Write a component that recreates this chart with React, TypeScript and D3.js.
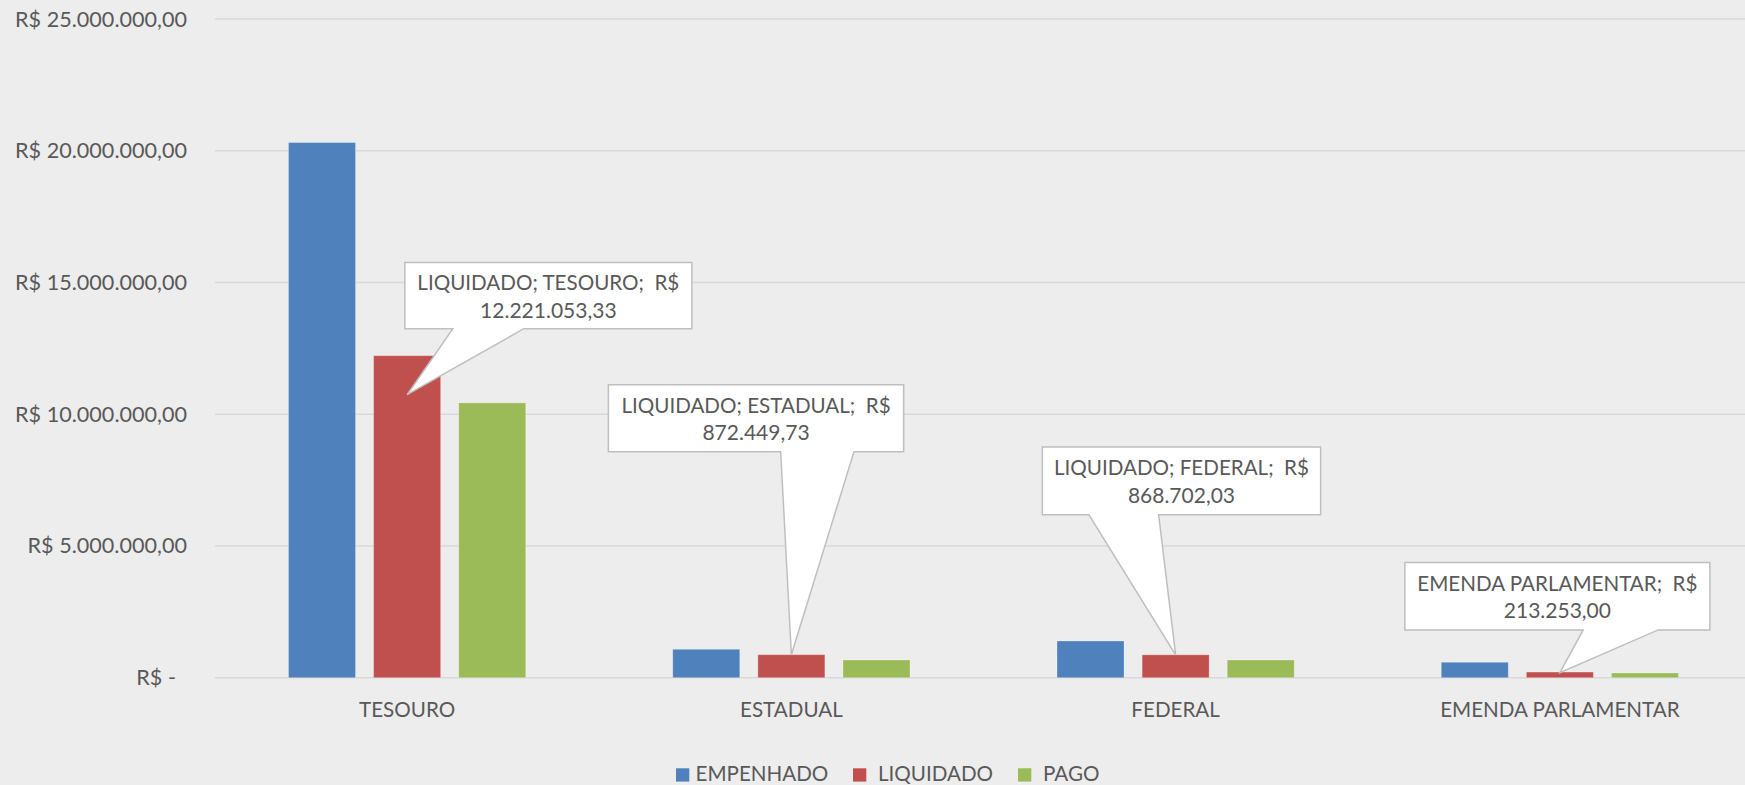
import React from "react";
import * as d3 from "d3";

const categories = ["TESOURO", "ESTADUAL", "FEDERAL", "EMENDA PARLAMENTAR"];
const seriesNames = ["EMPENHADO", "LIQUIDADO", "PAGO"];
const empenhado = [20310000, 1078000, 1393000, 585000];
const liquidado = [12221053.33, 872449.73, 868702.03, 213253.0];
const pago = [10430000, 672000, 672000, 178000];
const seriesValues = [empenhado, liquidado, pago];
const seriesColors = ["#4F81BD", "#C0504D", "#9BBB59"];
const yTicks = [0, 5000000, 10000000, 15000000, 20000000, 25000000];
const yTickLabels = [
  "R$ -  ",
  "R$ 5.000.000,00",
  "R$ 10.000.000,00",
  "R$ 15.000.000,00",
  "R$ 20.000.000,00",
  "R$ 25.000.000,00",
];
const calloutLines = [
  ["LIQUIDADO; TESOURO;  R$", "12.221.053,33"],
  ["LIQUIDADO; ESTADUAL;  R$", "872.449,73"],
  ["LIQUIDADO; FEDERAL;  R$", "868.702,03"],
  ["EMENDA PARLAMENTAR;  R$", "213.253,00"],
];

// callout geometry relative to the anchor on the LIQUIDADO bar (layout, not data)
const calloutLayout = [
  { tipDy: 39, left: -2.3, top: -132.3, w: 287, h: 66.3, b0: 48, b1: 119 },
  { tipDy: 0, left: -183, top: -270, w: 295.3, h: 67, b0: 172.3, b1: 245.6 },
  { tipDy: 0, left: -133.3, top: -207.7, w: 278.3, h: 67.7, b0: 46.6, b1: 116.3 },
  { tipDy: 0.5, left: -155, top: -110, w: 305, h: 67.3, b0: 178.3, b1: 253.3 },
];

const W = 1745;
const H = 785;
const FONT = "Lato, 'Open Sans', sans-serif";
const TEXT = "#595959";
const FS = 20.6;

export default function App() {
  const x = d3.scaleBand<string>().domain(categories).range([215, 1752]).paddingInner(0).paddingOuter(0);
  const bw = x.bandwidth();
  const xs = d3
    .scaleBand<string>()
    .domain(seriesNames)
    .range([bw / 2 - 118.6, bw / 2 + 118.6])
    .paddingInner(0.213)
    .paddingOuter(0);
  const y = d3.scaleLinear().domain([0, 25000000]).range([677.7, 19]);

  const legendItems = [
    { sq: 676, tx: 695.5 },
    { sq: 853, tx: 878 },
    { sq: 1018, tx: 1043 },
  ];

  return (
    <svg
      width={W}
      height={H}
      style={{ position: "absolute", left: 0, top: 0, background: "#EDEDED" }}
      fontFamily={FONT}
    >
      <rect x={0} y={0} width={W} height={H} fill="#EDEDED" />
      {yTicks.map((t) => (
        <line key={"g" + t} x1={215} x2={W} y1={y(t)} y2={y(t)} stroke="#D9D9D9" strokeWidth={1.6} />
      ))}
      {yTicks.map((t, i) => (
        <text
          key={"yl" + t}
          x={187}
          y={y(t) + 7.5}
          textAnchor="end"
          fontSize={21.6}
          fill={TEXT}
          style={{ whiteSpace: "pre" }}
        >
          {yTickLabels[i]}
        </text>
      ))}
      {seriesNames.map((s, si) =>
        categories.map((c, ci) => {
          const v = seriesValues[si][ci];
          const x0 = (x(c) as number) + (xs(s) as number);
          return (
            <rect
              key={s + c}
              x={x0}
              y={y(v)}
              width={xs.bandwidth()}
              height={y(0) - y(v)}
              fill={seriesColors[si]}
              stroke="rgba(255,255,255,0.25)"
              strokeWidth={1}
            />
          );
        })
      )}
      {categories.map((c) => (
        <text
          key={"cl" + c}
          x={(x(c) as number) + bw / 2}
          y={716.7}
          textAnchor="middle"
          fontSize={FS}
          fill={TEXT}
        >
          {c}
        </text>
      ))}
      {categories.map((c, ci) => {
        const L = calloutLayout[ci];
        const tipX = (x(c) as number) + (xs("LIQUIDADO") as number) + xs.bandwidth() / 2;
        const tipY = y(liquidado[ci]) + L.tipDy;
        const bx = tipX + L.left;
        const by = tipY + L.top;
        const path = d3.path();
        path.moveTo(bx, by);
        path.lineTo(bx + L.w, by);
        path.lineTo(bx + L.w, by + L.h);
        path.lineTo(bx + L.b1, by + L.h);
        path.lineTo(tipX, tipY);
        path.lineTo(bx + L.b0, by + L.h);
        path.lineTo(bx, by + L.h);
        path.closePath();
        return (
          <g key={"co" + c}>
            <path d={path.toString()} fill="#FFFFFF" stroke="#BFBFBF" strokeWidth={1.5} strokeLinejoin="miter" />
            <text
              x={bx + L.w / 2}
              y={by + 28}
              textAnchor="middle"
              fontSize={FS}
              fill={TEXT}
              style={{ whiteSpace: "pre" }}
            >
              {calloutLines[ci][0]}
            </text>
            <text x={bx + L.w / 2} y={by + 55.6} textAnchor="middle" fontSize={FS + 0.4} fill={TEXT}>
              {calloutLines[ci][1]}
            </text>
          </g>
        );
      })}
      {seriesNames.map((s, si) => (
        <g key={"lg" + s}>
          <rect x={legendItems[si].sq} y={768.3} width={13.3} height={13.3} fill={seriesColors[si]} />
          <text x={legendItems[si].tx} y={780.7} fontSize={FS} fill={TEXT}>
            {s}
          </text>
        </g>
      ))}
    </svg>
  );
}
